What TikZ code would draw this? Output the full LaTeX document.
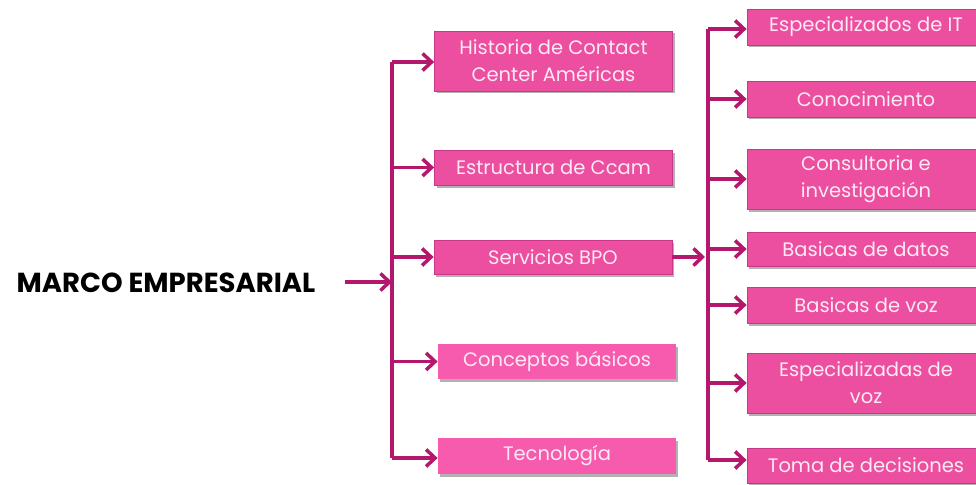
\documentclass[tikz,border=0pt]{standalone}
\usepackage{fontspec}
\setmainfont{Poppins}
\usetikzlibrary{arrows.meta,shadows}
\definecolor{boxfill}{HTML}{EC4F9F}
\definecolor{boxfillb}{HTML}{F65BAD}
\definecolor{boxline}{HTML}{C9378A}
\definecolor{conn}{HTML}{B3186C}
\definecolor{boxtext}{HTML}{FDEAF4}
\tikzset{
  box/.style={rectangle, fill=boxfill, draw=boxline, line width=0.8pt,
    text=boxtext, font=\fontsize{19.5}{27}\selectfont, align=center,
    minimum width=238pt, inner sep=0pt,
    drop shadow={shadow xshift=2pt, shadow yshift=-2.5pt, fill=black, opacity=0.3}},
  boxb/.style={box, fill=boxfillb, draw=none},
  arr/.style={draw=conn, line width=3.5pt, -{Straight Barb[length=9pt,width=17pt,line width=3.5pt]}},
  trunk/.style={draw=conn, line width=3.5pt},
  title/.style={font=\fontsize{27.5}{30}\selectfont\bfseries, text=black}
}
\begin{document}
\begin{tikzpicture}[x=1pt,y=-1pt]
\useasboundingbox (0,0) rectangle (976,484);
\fill[white] (0,0) rectangle (976,484);
% title
\node[title] (m) at (166,283) {MARCO EMPRESARIAL};
\coordinate (mend) at (345,282);
% left column
\node[box, minimum height=60pt] (h) at (553.5,61) {Historia de Contact\\Center Américas};
\node[box, minimum height=35pt] (e) at (553.5,167.5) {Estructura de Ccam};
\node[box, minimum height=34pt] (s) at (553,257) {Servicios BPO};
\node[boxb, minimum height=35pt] (c) at (557,361.5) {Conceptos básicos};
\node[boxb, minimum height=36pt] (t) at (557,456) {Tecnología};
% right column
\node[box, minimum height=36pt] (r1) at (866,27) {Especializados de IT};
\node[box, minimum height=36pt] (r2) at (866,99) {Conocimiento};
\node[box, minimum height=60pt] (r3) at (866,179) {Consultoria e\\investigación};
\node[box, minimum height=34pt] (r4) at (866,249) {Basicas de datos};
\node[box, minimum height=36pt] (r5) at (866,305) {Basicas de voz};
\node[box, minimum height=60pt] (r6) at (866,383) {Especializadas de\\voz};
\node[box, minimum height=35pt] (r7) at (866,465.5) {Toma de decisiones};
% left trunk
\coordinate (ltop) at (392,62);
\coordinate (lbot) at (392,458);
\draw[trunk] (ltop) -- (lbot);
\draw[arr] (mend) -- (ltop |- mend);
\draw[arr] (ltop) -- (ltop -| h.west);
\draw[arr] (ltop |- e.west) -- (e.west);
\draw[arr] (ltop |- s.west) -- (s.west);
\draw[arr] (ltop |- c.west) -- (c.west);
\draw[arr] (lbot) -- (lbot -| t.west);
% right trunk
\coordinate (rtop) at (708,29);
\coordinate (rbot) at (708,460);
\draw[trunk] (rtop) -- (rbot);
\draw[arr] (s.east) -- ([xshift=-3pt]rtop |- s.east);
\draw[arr] (rtop) -- (rtop -| r1.west);
\draw[arr] (rtop |- r2.west) -- (r2.west);
\draw[arr] (rtop |- r3.west) -- (r3.west);
\draw[arr] (rtop |- r4.west) -- (r4.west);
\draw[arr] (rtop |- r5.west) -- (r5.west);
\draw[arr] (rtop |- r6.west) -- (r6.west);
\draw[arr] (rbot) -- (rbot -| r7.west);
\end{tikzpicture}
\end{document}
